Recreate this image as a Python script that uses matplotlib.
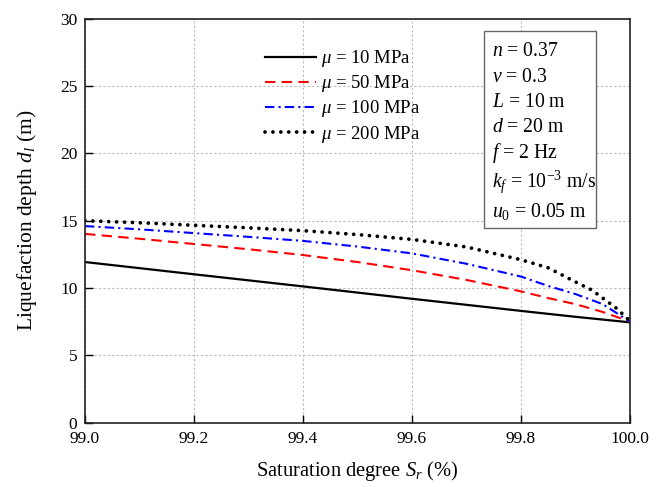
import matplotlib
matplotlib.use("Agg")
import matplotlib.pyplot as plt
from matplotlib.patches import Rectangle

plt.rcParams['font.family'] = ['Liberation Serif', 'DejaVu Serif']
plt.rcParams['mathtext.fontset'] = 'custom'
plt.rcParams['mathtext.rm'] = 'Liberation Serif'
plt.rcParams['mathtext.it'] = 'Liberation Serif:italic'
plt.rcParams['mathtext.bf'] = 'Liberation Serif:bold'

# ---- data ----
sr_10 = [99.0, 99.2, 99.4, 99.6, 99.8, 99.9, 100.0]
dl_10 = [11.93, 11.02, 10.12, 9.20, 8.30, 7.86, 7.45]

sr_50 = [99.0, 99.1, 99.2, 99.3, 99.4, 99.5, 99.6, 99.7, 99.8, 99.85, 99.9, 99.95, 100.0]
dl_50 = [14.02, 13.66, 13.27, 12.88, 12.45, 11.93, 11.32, 10.60, 9.75, 9.25, 8.80, 8.22, 7.50]

sr_100 = [99.0, 99.1, 99.2, 99.3, 99.4, 99.5, 99.6, 99.7, 99.8, 99.85, 99.9, 99.95, 100.0]
dl_100 = [14.60, 14.36, 14.08, 13.80, 13.50, 13.08, 12.57, 11.80, 10.85, 10.15, 9.55, 8.80, 7.50]

sr_200 = [99.0, 99.1, 99.2, 99.3, 99.4, 99.5, 99.6, 99.7, 99.8, 99.85, 99.9, 99.93, 99.95, 99.975, 100.0]
dl_200 = [15.00, 14.85, 14.66, 14.47, 14.26, 13.97, 13.61, 13.05, 12.10, 11.50, 10.45, 9.85, 9.25, 8.50, 7.55]

series_labels = [r'$\mu$ = 10 MPa', r'$\mu$ = 50 MPa', r'$\mu$ = 100 MPa', r'$\mu$ = 200 MPa']

x_ticks = [99.0, 99.2, 99.4, 99.6, 99.8, 100.0]
x_ticklabels = ['99.0', '99.2', '99.4', '99.6', '99.8', '100.0']
y_ticks = [0, 5, 10, 15, 20, 25, 30]

param_lines = [r'$n$ = 0.37', r'$v$ = 0.3', r'$L$ = 10 m', r'$d$ = 20 m',
               r'$f$ = 2 Hz', r'$k_f$ = 10$^{-3}$ m/s', r'$u_0$ = 0.05 m']

# ---- figure ----
fig = plt.figure(figsize=(6.64, 4.87), dpi=100)
ax = fig.add_axes([0.128, 0.1322, 0.8208, 0.8292])

ax.plot(sr_10, dl_10, color='black', lw=1.6, ls='-', label=series_labels[0])
ax.plot(sr_50, dl_50, color='#ff0000', lw=1.5, ls=(0, (5, 3)), label=series_labels[1])
ax.plot(sr_100, dl_100, color='#0000ff', lw=1.5, ls=(0, (4.5, 2, 1, 2)), label=series_labels[2])
ax.plot(sr_200, dl_200, color='black', lw=2.7, ls=(0, (0.01, 2.1)),
        dash_capstyle='round', label=series_labels[3])

ax.set_xlim(99.0, 100.0)
ax.set_ylim(0, 30)
ax.set_xticks(x_ticks)
ax.set_xticklabels(x_ticklabels)
ax.set_yticks(y_ticks)

ax.grid(True, color='#bbbbbb', ls=(0, (2, 2)), lw=0.8)
ax.tick_params(direction='in', length=6, width=1.0, labelsize=12.5)
ax.tick_params(axis='y', pad=5.5)
ax.tick_params(axis='x', pad=6)
for s in ax.spines.values():
    s.set_linewidth(1.2)
    s.set_color('#222222')

ax.set_xlabel(r'Saturation degree $S_r$ (%)', fontsize=14.8, labelpad=9)
ax.set_ylabel(r'Liquefaction depth $d_l$ (m)', fontsize=15.5, labelpad=15)

leg = ax.legend(loc='upper left', bbox_to_anchor=(0.31, 0.955), frameon=False,
                fontsize=13.5, handlelength=2.7, handletextpad=0.3, labelspacing=0.22,
                borderaxespad=0.2)

# parameter box
ax.add_patch(Rectangle((0.732, 0.482), 0.2056, 0.4885, transform=ax.transAxes,
                       facecolor='white', edgecolor='#666666', lw=1.0, zorder=5))
baselines = [0.908, 0.844, 0.781, 0.719, 0.655, 0.584, 0.508]
for txt, yb in zip(param_lines, baselines):
    ax.text(0.747, yb, txt, transform=ax.transAxes, fontsize=14.2,
            va='baseline', ha='left', zorder=6)

fig.savefig('out.png', dpi=100)
